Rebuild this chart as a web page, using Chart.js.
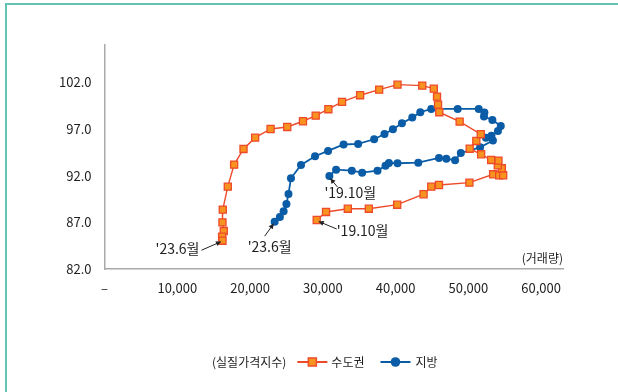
<!DOCTYPE html>
<html><head><meta charset="utf-8">
<script src="https://cdn.jsdelivr.net/npm/chart.js@4.4.1/dist/chart.umd.min.js"></script>
<style>
html,body{margin:0;padding:0;background:#fff;}
#wrap{position:relative;width:618px;height:392px;overflow:hidden;background:#fff;}
#frame{position:absolute;left:5px;top:3px;width:700px;height:500px;border-top:2px solid #63c4b6;border-left:2px solid #63c4b6;box-sizing:border-box;}
canvas{position:absolute;left:0;top:0;}
</style></head><body>
<div id="wrap"><div id="frame"></div><canvas id="c" width="618" height="392"></canvas></div>
<script>
// 수도권 (capital area): '19.10 -> '23.6, x = 거래량, y = 실질가격지수
const capitalX = [29160,30440,33430,36320,40220,43840,44900,45960,50140,53400,54230,54780,54590,54040,54130,53130,51750,50180,51090,51700,48800,46000,45830,45690,45250,43660,40260,37740,35120,32640,30760,29020,27270,25110,22820,20700,19100,17810,16940,16250,16210,16390,16160,16210];
const capitalY = [87.25,88.11,88.46,88.46,88.89,90.01,90.82,91.00,91.25,92.15,92.04,92.04,92.79,93.11,93.61,93.68,94.29,94.89,95.72,96.44,97.79,98.80,99.61,100.47,101.32,101.65,101.75,101.22,100.62,99.90,99.12,98.43,97.83,97.22,97.00,96.07,94.86,93.18,90.82,88.36,87.00,86.07,85.46,85.03];
// 지방 (regions)
const regionX = [30900,31820,33980,35400,37510,38610,39080,40260,43110,45960,46970,48170,48960,51610,53370,52410,53170,54060,54450,53300,52140,52200,51420,48530,44900,43390,42290,40870,39630,38470,37050,34850,32850,30720,28930,27000,25620,25280,25000,24610,24100,23380];
const regionY = [91.97,92.64,92.54,92.32,92.54,93.07,93.36,93.33,93.39,93.90,93.82,93.65,94.43,95.04,95.77,96.06,96.29,96.79,97.33,97.97,98.34,98.77,99.15,99.15,99.15,98.80,98.22,97.62,96.97,96.47,95.90,95.40,95.34,94.65,94.08,93.15,91.72,90.04,88.97,88.20,87.57,87.07];

const xTickValues = [0,10000,20000,30000,40000,50000,60000];
const xTickLabels = ['–','10,000','20,000','30,000','40,000','50,000','60,000'];
const yTickValues = [82,87,92,97,102];
const yTickLabels = ['82.0','87.0','92.0','97.0','102.0'];
const seriesNames = ['수도권','지방'];
const legendPrefix = '(실질가격지수)';
const xAxisTitle = '(거래량)';
const startLabel = "'19.10월";
const endLabel = "'23.6월";

const RED = '#ee4a2a', RED_FILL = '#f7931e', BLUE = '#0a5ca6';
const FONT = '"Noto Sans CJK KR", "Noto Sans", sans-serif';
const TXT = '#1f1f1f';

function toPoints(xs, ys){ return xs.map((x,i)=>({x:x, y:ys[i]})); }

const overlay = {
  id:'overlay',
  afterDatasetsDraw(chart){
    const ctx = chart.ctx;
    const ca = chart.chartArea;
    ctx.save();
    // axis title
    ctx.fillStyle = TXT;
    ctx.font = '12px ' + FONT;
    ctx.textAlign = 'right';
    ctx.textBaseline = 'middle';
    ctx.fillText(xAxisTitle, ca.right, ca.bottom - 11);

    // annotations
    function arrow(x1,y1,x2,y2){
      ctx.strokeStyle = '#222'; ctx.fillStyle = '#222'; ctx.lineWidth = 1;
      ctx.beginPath(); ctx.moveTo(x1,y1); ctx.lineTo(x2,y2); ctx.stroke();
      const a = Math.atan2(y2-y1, x2-x1), L = 5, W = 2.6;
      ctx.beginPath();
      ctx.moveTo(x2,y2);
      ctx.lineTo(x2 - L*Math.cos(a) + W*Math.sin(a), y2 - L*Math.sin(a) - W*Math.cos(a));
      ctx.lineTo(x2 - L*Math.cos(a) - W*Math.sin(a), y2 - L*Math.sin(a) + W*Math.cos(a));
      ctx.closePath(); ctx.fill();
    }
    function pt(di, idx){
      const el = chart.getDatasetMeta(di).data[idx];
      return {x: el.x, y: el.y};
    }
    ctx.font = '14px ' + FONT;
    ctx.textBaseline = 'middle';
    // capital start
    let p = pt(0, 0);
    arrow(p.x+20, p.y+9, p.x+2, p.y+1.5);
    ctx.textAlign = 'left'; ctx.fillStyle = TXT;
    ctx.fillText(startLabel, p.x+20, p.y+11);
    // region start
    p = pt(1, 0);
    arrow(p.x+8, p.y+11, p.x+1, p.y+2.5);
    ctx.textAlign = 'left'; ctx.fillStyle = TXT;
    ctx.fillText(startLabel, p.x-5, p.y+17);
    // capital end
    p = pt(0, capitalX.length-1);
    arrow(p.x-21, p.y+9.5, p.x-1.5, p.y+1);
    ctx.textAlign = 'right'; ctx.fillStyle = TXT;
    ctx.fillText(endLabel, p.x-23, p.y+8);
    // region end
    p = pt(1, regionX.length-1);
    arrow(p.x-10, p.y+14.5, p.x-1, p.y+2);
    ctx.textAlign = 'left'; ctx.fillStyle = TXT;
    ctx.fillText(endLabel, p.x-27, p.y+25);

    // legend
    const ly = 362;
    ctx.font = '12px ' + FONT;
    ctx.textAlign = 'left';
    ctx.fillStyle = TXT;
    let x = 212;
    ctx.fillText(legendPrefix, x, ly);
    x += ctx.measureText(legendPrefix).width + 11;
    // red item
    ctx.strokeStyle = RED; ctx.lineWidth = 2;
    ctx.beginPath(); ctx.moveTo(x, ly); ctx.lineTo(x+30, ly); ctx.stroke();
    ctx.fillStyle = RED_FILL; ctx.strokeStyle = RED; ctx.lineWidth = 1.5;
    ctx.fillRect(x+11, ly-4, 8, 8); ctx.strokeRect(x+11, ly-4, 8, 8);
    x += 34;
    ctx.fillStyle = TXT;
    ctx.fillText(seriesNames[0], x, ly);
    x += ctx.measureText(seriesNames[0]).width + 16;
    // blue item
    ctx.strokeStyle = BLUE; ctx.lineWidth = 2;
    ctx.beginPath(); ctx.moveTo(x, ly); ctx.lineTo(x+30, ly); ctx.stroke();
    ctx.fillStyle = BLUE;
    ctx.beginPath(); ctx.arc(x+15, ly, 4.8, 0, Math.PI*2); ctx.fill();
    x += 35;
    ctx.fillStyle = TXT;
    ctx.fillText(seriesNames[1], x, ly);
    ctx.restore();
  }
};

new Chart(document.getElementById('c'), {
  type: 'scatter',
  data: {
    datasets: [
      { label: seriesNames[0], data: toPoints(capitalX, capitalY), showLine: true,
        borderColor: RED, borderWidth: 1.4, backgroundColor: RED_FILL,
        pointStyle: 'rect', pointRadius: 5, pointBorderColor: RED, pointBorderWidth: 1.3,
        pointBackgroundColor: RED_FILL, tension: 0 },
      { label: seriesNames[1], data: toPoints(regionX, regionY), showLine: true,
        borderColor: BLUE, borderWidth: 1.8, backgroundColor: BLUE,
        pointStyle: 'circle', pointRadius: 4, pointBorderWidth: 0,
        pointBackgroundColor: BLUE, tension: 0 }
    ]
  },
  options: {
    responsive: false, animation: false, devicePixelRatio: 1,
    layout: { padding: { top: 45, right: 55, left: 0, bottom: 0 } },
    plugins: { legend: { display: false }, tooltip: { enabled: false } },
    scales: {
      x: {
        type: 'linear', min: 0, max: 63000,
        afterBuildTicks: s => { s.ticks = xTickValues.map(v => ({ value: v })); },
        afterFit: s => { s.height = 123; },
        grid: { display: false, drawTicks: false },
        border: { display: true, color: '#a9a9a9', width: 1.5 },
        ticks: { callback: (v, i) => xTickLabels[i], color: TXT, font: { family: FONT, size: 13 }, padding: 11, maxRotation: 0, autoSkip: false }
      },
      y: {
        type: 'linear', min: 82, max: 106,
        afterBuildTicks: s => { s.ticks = yTickValues.map(v => ({ value: v })); },
        afterFit: s => { s.width = 104.5; },
        grid: { display: false, drawTicks: false },
        border: { display: true, color: '#a9a9a9', width: 1.5 },
        ticks: { callback: (v, i) => yTickLabels[i], color: TXT, font: { family: FONT, size: 13 }, padding: 13 }
      }
    }
  },
  plugins: [overlay]
});
</script>
</body></html>
